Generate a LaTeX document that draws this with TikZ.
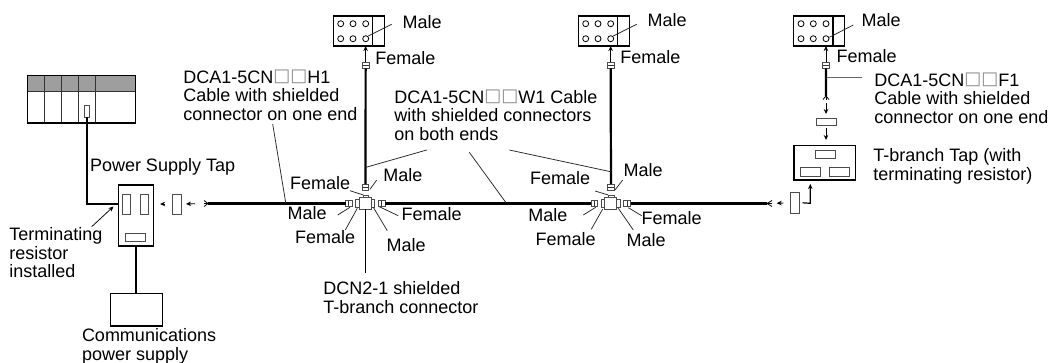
\documentclass[tikz,border=0pt]{standalone}
\usepackage{fontspec}
\setmainfont{Liberation Sans}
\newfontfamily\djfont{DejaVu Sans}
\usetikzlibrary{arrows.meta}
\newcommand{\sqs}{\raisebox{2pt}{\color{black!45}\djfont □□}}
\tikzset{
  cable/.style={line width=2.2pt,black},
  lead/.style={line width=0.75pt,black!85},
  arr/.style={line width=0.9pt,-{Stealth[length=5pt,width=4.5pt]}},
  part/.style={draw=black!70,line width=0.9pt,fill=white,inner sep=0pt,outer sep=0pt},
  box/.style={draw=black,line width=1.4pt,fill=white,inner sep=0pt,outer sep=0pt},
  vsplit/.style={path picture={\draw[black!80,line width=0.8pt] (path picture bounding box.north) -- (path picture bounding box.south);}},
  hsplit/.style={path picture={\draw[black!80,line width=0.8pt] (path picture bounding box.west) -- (path picture bounding box.east);}},
  lbl/.style={inner sep=0pt,outer sep=0pt,anchor=base west,align=left,font=\fontsize{18}{18.5}\selectfont}
}
% #1 style, #2 name, #3..#6 x1 y1 x2 y2
\newcommand{\partbox}[6][part]{\node[#1,minimum width={(#5-#3)*1pt},minimum height={(#6-#4)*1pt}] (#2) at ({(#3+#5)/2},{(#4+#6)/2}) {};}
\newcommand{\ldline}[3]{\coordinate (#1a) at (#2); \coordinate (#1b) at (#3); \draw[lead] (#1a) -- (#1b);}
% device with its female connector: #1 prefix, #2 x shift
\newcommand{\devicegroup}[2]{%
\begin{scope}[xshift=#2pt]
  \partbox[box]{#1dev}{333.3}{16}{384.3}{46}
  \draw[line width=1.2pt] (372.7,16) -- (372.7,46);
  \foreach \x in {340.7,353,365.7} \foreach \y in {23.7,38.7} \draw[line width=0.8pt] (\x,\y) circle (3);
  \partbox[part,hsplit]{#1conn}{362.3}{62.3}{369}{68.3}
  \draw[arr] (#1conn.north) -- (#1conn.north |- #1dev.south);
\end{scope}}
% T-branch: #1 prefix, #2 x shift
\newcommand{\tgroup}[2]{%
\begin{scope}[xshift=#2pt]
  \partbox{#1stubL}{355.7}{199.3}{359.6}{207.7}
  \partbox{#1stubR}{371}{199.3}{374.7}{207.7}
  \partbox{#1stubT}{363.3}{195}{368.7}{198}
  \partbox{#1box}{359.3}{197.7}{371.3}{209}
  \partbox[part,vsplit]{#1L}{345.5}{200.3}{352}{206.7}
  \partbox[part,vsplit]{#1R}{378.3}{200.3}{385}{206.7}
  \partbox[part,hsplit]{#1T}{362.3}{184}{368.7}{190.7}
\end{scope}}
\begin{document}
\begin{tikzpicture}[x=1pt,y=-1pt]
\useasboundingbox (0,0) rectangle (1053,362);
% PLC
\fill[black!38] (27.7,75.7) rectangle (135.7,91);
\draw[line width=0.9pt,black!80] (27.7,91) -- (135.7,91);
\foreach \x in {44.7,61.7,78.7,95.7} \draw[line width=0.9pt,black!80] (\x,75.7) -- (\x,123);
\partbox[box,fill=none]{plc}{27.7}{75.7}{135.7}{123}
\partbox{plcport}{84}{105.7}{89.3}{117.3}
% power supply tap
\partbox[box]{tap}{118.3}{185}{153.3}{246}
\partbox{tapA}{122.7}{194}{130.7}{214}
\partbox{tapB}{140}{194}{148.3}{214}
\partbox{tapC}{125.7}{233.3}{145.7}{241.3}
\partbox[box]{cps}{110.7}{293.3}{162.3}{326}
\coordinate (tapin) at (118.3,204);
\draw[cable] (plcport.south) |- (tapin);
\draw[cable] (tap.south) -- (tap.south |- cps.north);
\partbox{pc}{172.7}{194}{181}{214}
\coordinate (fanA) at (208,203.5);
\draw[arr,shorten >=6.8pt,shorten <=7.5pt] (pc.west) -- (tap.east |- pc.west);
\draw[arr,shorten >=5pt,shorten <=13pt] (fanA) -- (pc.east);
% devices and T-branches
\devicegroup{a}{0}
\devicegroup{b}{245}
\devicegroup{c}{460.3}
\tgroup{s}{0}
\tgroup{t}{245.5}
% cables
\draw[cable] (aconn.south) -- (sT.north);
\draw[cable] (bconn.south) -- (tT.north);
\draw[cable] (fanA) -- (sL.west);
\draw[cable] (sR.east) -- (tL.west);
\coordinate (fanB) at (767,203.5);
\draw[cable] (tR.east) -- (fanB);
\coordinate (fanC) at (826,96);
\draw[cable] (cconn.south) -- (fanC);
\foreach \d in {-3,0,3} {
  \draw[line width=0.8pt] (fanA) -- ++(-4,\d);
  \draw[line width=0.8pt] (fanB) -- ++(5,\d);
  \draw[line width=0.8pt] (fanC) -- ++(\d,3.5);
}
\coordinate (dcnend) at (365.3,273.3);
\draw[line width=0.8pt] (sbox.south) -- (dcnend);
% T-branch tap
\partbox[box]{rtap}{794}{145.7}{855.3}{180}
\partbox{rA}{815}{150}{835}{158.3}
\partbox{rB}{800}{167.7}{820.7}{176}
\partbox{rC}{829}{167.7}{849.7}{176}
\partbox{vc}{816.3}{118}{836.7}{125.3}
\partbox{hc}{790.7}{192.3}{799.3}{213.3}
\draw[arr,shorten <=7.3pt,shorten >=4pt] (fanC) -- (vc.north -| fanC);
\draw[arr,shorten <=3pt,shorten >=5.7pt] (vc.south -| fanC) -- (rtap.north -| fanC);
\draw[arr,shorten <=7.4pt,shorten >=9.7pt] (hc.west) -- (fanB);
\coordinate (bend) at (810.3,203.3);
\draw[arr,line width=1.2pt,shorten >=4pt] ([xshift=3.4pt]hc.east) -- (bend) -- (bend |- rtap.south);
% leaders
\coordinate (ta) at (91.7,226.7); \coordinate (tb) at (113.5,206.5);
\draw[arr,line width=0.75pt] (ta) -- (tb);
\ldline{ma}{391.7,24.3}{368.3,36}
\ldline{mb}{636.7,24.3}{613.3,36}
\ldline{mc}{853.3,25}{829.3,37.3}
\coordinate (fc1) at (827,77); \coordinate (fc2) at (861.7,77);
\draw[lead,black!60,line width=1pt] (fc1) -- (fc2);
\ldline{h}{272.7,124}{285.7,202.7}
\ldline{wa}{426.7,150}{366,167.3}
\ldline{wb}{469.3,152.3}{506,202.7}
\ldline{wc}{509.3,150}{610.7,171.7}
\ldline{sa}{376.7,180}{370,189.3}
\ldline{sb}{350,190.7}{363.3,195}
\ldline{sc}{337.7,215}{350,207.3}
\ldline{sd}{345.3,230}{357.3,208.3}
\ldline{se}{387.3,230.7}{373.3,207.3}
\ldline{sf}{398.3,215.7}{379.3,206.7}
\ldline{ta}{622.7,180}{615,190}
\ldline{tb}{595,191}{608.3,195}
\ldline{tc}{583.3,215}{595.7,207.3}
\ldline{td}{591.3,229.3}{602.7,209}
\ldline{te}{633.3,230}{618.3,208.3}
\ldline{tf}{641.7,215.7}{628.3,207.7}
% labels
\node[lbl] (l1) at (90,171.7) {Power Supply Tap};
\node[lbl] (l2) at (9.3,277.7) {Terminating\\resistor\\installed};
\node[lbl] (l3) at (82,360) {Communications\\power supply};
\node[lbl] (l4) at (183.3,120) {DCA1-5CN\sqs H1\\Cable with shielded\\connector on one end};
\node[lbl] (l5) at (394.3,140) {DCA1-5CN\sqs W1 Cable\\with shielded connectors\\on both ends};
\node[lbl] (l6) at (874.3,123.3) {DCA1-5CN\sqs F1\\Cable with shielded\\connector on one end};
\node[lbl] (l7) at (873.3,180) {T-branch Tap (with\\terminating resistor)};
\node[lbl] (l8) at (323.3,313.3) {DCN2-1 shielded\\T-branch connector};
\node[lbl] (m1) at (402.7,28.3) {Male};
\node[lbl] (f1) at (375.3,64.3) {Female};
\node[lbl] (m2) at (647.7,26.7) {Male};
\node[lbl] (f2) at (620.3,63.3) {Female};
\node[lbl] (m3) at (861.7,26.7) {Male};
\node[lbl] (f3) at (836.7,62.3) {Female};
\node[lbl] (s1) at (383.3,181.7) {Male};
\node[lbl] (s2) at (290,189) {Female};
\node[lbl] (s3) at (287.7,219.3) {Male};
\node[lbl] (s4) at (295,243.3) {Female};
\node[lbl] (s5) at (386.7,251.7) {Male};
\node[lbl] (s6) at (401.7,220.7) {Female};
\node[lbl] (t1) at (623.7,176.7) {Male};
\node[lbl] (t2) at (530,184.3) {Female};
\node[lbl] (t3) at (528.3,221) {Male};
\node[lbl] (t4) at (535.7,245.7) {Female};
\node[lbl] (t5) at (626.7,246.7) {Male};
\node[lbl] (t6) at (641.7,224) {Female};
\end{tikzpicture}
\end{document}
